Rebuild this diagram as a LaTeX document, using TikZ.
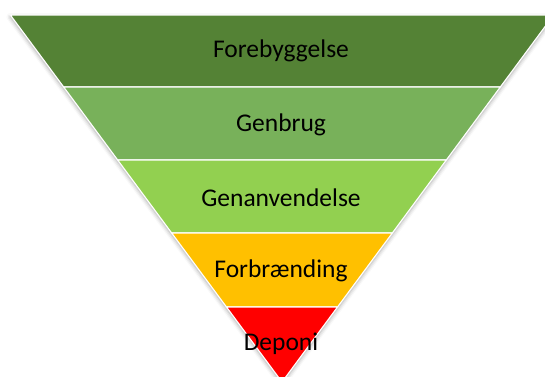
\documentclass[tikz,border=0pt]{standalone}
\usepackage{fontspec}
\setmainfont{Carlito}
\usetikzlibrary{shadows.blur}
\definecolor{cA}{HTML}{548235}
\definecolor{cB}{HTML}{78B15A}
\definecolor{cC}{HTML}{92D050}
\definecolor{cD}{HTML}{FFC000}
\definecolor{cE}{HTML}{FF0000}
\begin{document}
\begin{tikzpicture}[x=1pt,y=-1pt,
  band/.style={draw=white, line width=1.1pt},
  lbl/.style={font=\fontsize{25.5}{30}\selectfont, text=black, inner sep=0pt}]
\useasboundingbox (0,0) rectangle (545,376);
\begin{scope}
\clip (0,0) rectangle (545,376);
\path[fill=white, blur shadow={shadow xshift=0pt, shadow yshift=-2pt, shadow blur radius=4pt, shadow opacity=35}]
  (10.4,15) -- (553.6,15) -- (282,382) -- cycle;
\fill[cA, band] (10.4,15) -- (553.6,15) -- (500.3,87) -- (63.7,87) -- cycle;
\fill[cB, band] (63.7,87) -- (500.3,87) -- (446.3,160) -- (117.7,160) -- cycle;
\fill[cC, band] (117.7,160) -- (446.3,160) -- (392.3,233) -- (171.7,233) -- cycle;
\fill[cD, band] (171.7,233) -- (392.3,233) -- (337.5,307) -- (226.5,307) -- cycle;
\fill[cE, band] (226.5,307) -- (337.5,307) -- (282,382) -- cycle;
\end{scope}
\node[lbl] (t1) at (281,51) {Forebyggelse};
\node[lbl] (t2) at (281,125) {Genbrug};
\node[lbl] (t3) at (281,198) {Genanvendelse};
\node[lbl] (t4) at (281,271) {Forbrænding};
\node[lbl] (t5) at (281,344) {Deponi};
\end{tikzpicture}
\end{document}
